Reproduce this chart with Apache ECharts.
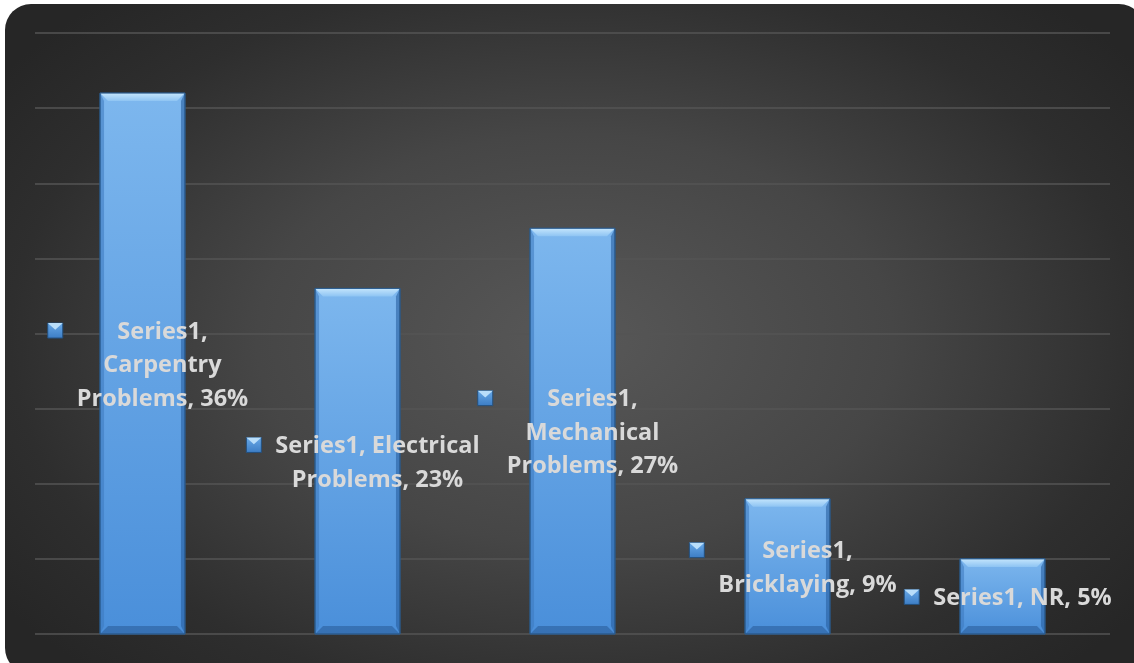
<!DOCTYPE html>
<html>
<head>
<meta charset="utf-8">
<script src="https://cdn.jsdelivr.net/npm/echarts@6/dist/echarts.min.js"></script>
<style>
  html, body { margin: 0; padding: 0; background: #ffffff; }
  #wrap {
    position: absolute; left: 5px; top: 4px; width: 1140px; height: 670px;
    border-radius: 26px;
    background: radial-gradient(ellipse 62% 68% at 50% 50%, #585858 0%, #464646 45%, #2e2e2e 80%, #262626 100%);
    overflow: hidden;
  }
  #chart { position: absolute; left: -5px; top: -4px; width: 1134px; height: 663px; }
</style>
</head>
<body>
<div id="wrap"><div id="chart"></div></div>
<script>
// Share of problems by trade
const seriesName = 'Series1';
const categories = ['Carpentry Problems', 'Electrical Problems', 'Mechanical Problems', 'Bricklaying', 'NR'];
const values = [36, 23, 27, 9, 5];
// data label text, wrapped the way it is shown on the chart
const labelTexts = [
  'Series1,\nCarpentry\nProblems, 36%',
  'Series1, Electrical\nProblems, 23%',
  'Series1,\nMechanical\nProblems, 27%',
  'Series1,\nBricklaying, 9%',
  'Series1, NR, 5%'
];

const LABEL_FONT = 'bold 23.5px "Open Sans"';
const LINE_H = 33.5;
const measureCtx = document.createElement('canvas').getContext('2d');
function textWidth(lines) {
  measureCtx.font = LABEL_FONT;
  return Math.max(...lines.map(l => measureCtx.measureText(l).width));
}

function renderBar(params, api) {
  const idx = params.dataIndex;
  const v = api.value(1);
  const top = api.coord([idx, v]);
  const base = api.coord([idx, 0]);
  const bw = api.size([1, 0])[0] * 0.395;
  const cx = top[0];
  const x0 = cx - bw / 2, x1 = cx + bw / 2;
  const y0 = top[1], y1 = base[1];
  const b = 8; // bevel depth
  const children = [
    // bar body
    { type: 'rect', shape: { x: x0, y: y0, width: bw, height: y1 - y0 },
      style: { fill: new echarts.graphic.LinearGradient(0, 0, 0, 1, [
        { offset: 0, color: '#7db7ee' }, { offset: 1, color: '#4a8fda' }]),
        stroke: '#2c5c8e', lineWidth: 1 } },
    // top bevel
    { type: 'polygon', shape: { points: [[x0, y0], [x1, y0], [x1 - b, y0 + b], [x0 + b, y0 + b]] },
      style: { fill: new echarts.graphic.LinearGradient(0, 0, 0, 1, [
        { offset: 0, color: '#c4e5fc' }, { offset: 1, color: '#8ec4f3' }]) } },
    // left bevel
    { type: 'polygon', shape: { points: [[x0, y0], [x0 + b * 0.5, y0 + b], [x0 + b * 0.5, y1 - b], [x0, y1]] },
      style: { fill: 'rgba(60,120,190,0.55)' } },
    // right bevel
    { type: 'polygon', shape: { points: [[x1, y0], [x1 - b * 0.5, y0 + b], [x1 - b * 0.5, y1 - b], [x1, y1]] },
      style: { fill: 'rgba(40,95,160,0.6)' } },
    // bottom bevel
    { type: 'polygon', shape: { points: [[x0, y1], [x1, y1], [x1 - b, y1 - b], [x0 + b, y1 - b]] },
      style: { fill: 'rgba(40,90,150,0.55)' } },
    // outline
    { type: 'rect', shape: { x: x0, y: y0, width: bw, height: y1 - y0 },
      style: { fill: 'none', stroke: '#2a5a8c', lineWidth: 1 } }
  ];

  // data label with legend key to the left of the text block
  const text = labelTexts[idx];
  const lines = text.split('\n');
  const tw = textWidth(lines);
  const keyGap = 29;
  const totalW = keyGap + tw;
  const left = cx + 5.5 - totalW / 2;
  const cy = (y0 + y1) / 2 + 2;
  const blockTop = cy - lines.length * LINE_H / 2;
  const kx = left, ky = blockTop + LINE_H / 2 - 9, ks = 15;
  children.push(
    { type: 'rect', shape: { x: kx, y: ky, width: ks, height: ks },
      style: { fill: new echarts.graphic.LinearGradient(0, 0, 0, 1, [
        { offset: 0, color: '#6aaae8' }, { offset: 1, color: '#3b7cc4' }]),
        stroke: '#24507e', lineWidth: 1 } },
    { type: 'polygon', shape: { points: [[kx, ky], [kx + ks, ky], [kx + ks / 2, ky + ks * 0.45]] },
      style: { fill: '#b9defa' } },
    { type: 'text', style: {
        text: text, x: left + keyGap + tw / 2, y: cy,
        align: 'center', verticalAlign: 'middle',
        font: LABEL_FONT, lineHeight: LINE_H, fill: '#d9d9d9' } }
  );
  return { type: 'group', children };
}

const chart = echarts.init(document.getElementById('chart'), null, { renderer: 'canvas' });
chart.setOption({
  backgroundColor: 'transparent',
  animation: false,
  grid: { left: 35, right: 24, top: 33, bottom: 29, containLabel: false },
  xAxis: {
    type: 'category', data: categories,
    axisLine: { show: false }, axisTick: { show: false }, axisLabel: { show: false }
  },
  yAxis: {
    type: 'value', min: 0, max: 40, interval: 5,
    axisLine: { show: false }, axisTick: { show: false }, axisLabel: { show: false },
    splitLine: { lineStyle: { color: '#555555', width: 1.5 } }
  },
  series: [{
    name: seriesName,
    type: 'custom',
    renderItem: renderBar,
    encode: { x: 0, y: 1 },
    data: values.map((v, i) => [i, v])
  }]
});
</script>
</body>
</html>
